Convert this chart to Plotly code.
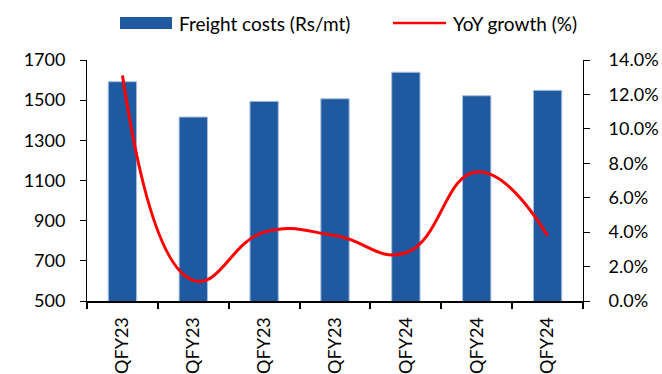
import plotly.graph_objects as go

# Quarterly freight cost and its year-on-year growth
quarters = ["1QFY23", "2QFY23", "3QFY23", "4QFY23", "1QFY24", "2QFY24", "3QFY24"]
freight_cost = [1592, 1416, 1494, 1507, 1639, 1522, 1549]      # Rs/mt
yoy_growth = [13.1, 1.2, 4.0, 3.8, 2.8, 7.5, 3.8]               # %

bar_name = "Freight costs (Rs/mt)"
line_name = "YoY growth (%)"

BLUE = "#1F5AA0"
RED = "#FF0000"
FONT = "Lato"

W, H = 662, 374
ML, MR, MT, MB = 87, 79, 60, 73
PW, PH = W - ML - MR, H - MT - MB


def px_x(x):
    return (x - ML) / PW


def px_y(y):
    return (H - MB - y) / PH


fig = go.Figure()

fig.add_trace(go.Bar(
    x=quarters, y=freight_cost, name=bar_name,
    marker=dict(color=BLUE, line=dict(color="#A9BEDD", width=1)),
    showlegend=False,
))

fig.add_trace(go.Scatter(
    x=quarters, y=yoy_growth, name=line_name, yaxis="y2",
    mode="lines", line=dict(color=RED, width=3, shape="spline", smoothing=1.3),
    showlegend=False,
))

# Legend drawn across the top: swatches plus labels
shapes = [
    dict(type="rect", xref="paper", yref="paper",
         x0=px_x(120), x1=px_x(172), y0=px_y(29), y1=px_y(17),
         fillcolor=BLUE, line=dict(width=0)),
    dict(type="line", xref="paper", yref="paper",
         x0=px_x(393), x1=px_x(446), y0=px_y(23), y1=px_y(23),
         line=dict(color=RED, width=2.5)),
]
annotations = [
    dict(text=bar_name, xref="paper", yref="paper", x=px_x(177), y=px_y(23),
         xanchor="left", yanchor="middle", showarrow=False,
         font=dict(family=FONT, size=19, color="#000000")),
    dict(text=line_name, xref="paper", yref="paper", x=px_x(451), y=px_y(23),
         xanchor="left", yanchor="middle", showarrow=False,
         font=dict(family=FONT, size=19, color="#000000")),
]

fig.update_layout(
    width=W, height=H,
    margin=dict(l=ML, r=MR, t=MT, b=MB, autoexpand=False),
    paper_bgcolor="white", plot_bgcolor="white",
    font=dict(family=FONT, size=18, color="#000000"),
    bargap=0.6,
    shapes=shapes, annotations=annotations,
    xaxis=dict(
        type="category", tickangle=-90, tickson="boundaries",
        ticks="outside", ticklen=6, tickcolor="#000000", tickwidth=1.5,
        showline=True, linecolor="#000000", linewidth=2,
        showgrid=False, automargin=False, ticklabelstandoff=7,
        tickfont=dict(family=FONT, size=18),
    ),
    yaxis=dict(
        range=[500, 1700], dtick=200, tick0=500,
        ticks="outside", ticklen=6, tickcolor="#000000", tickwidth=1,
        showline=True, linecolor="#000000", linewidth=1,
        showgrid=False, zeroline=False, automargin=False,
        ticklabelstandoff=11,
        tickfont=dict(family=FONT, size=18),
    ),
    yaxis2=dict(
        overlaying="y", side="right",
        range=[0, 14], dtick=2, tickformat=".1f", ticksuffix="%",
        ticks="outside", ticklen=6, tickcolor="#000000", tickwidth=1,
        showline=True, linecolor="#000000", linewidth=1,
        showgrid=False, zeroline=False, automargin=False,
        ticklabelstandoff=15,
        tickfont=dict(family=FONT, size=18),
    ),
)

fig.write_html("out.html")
